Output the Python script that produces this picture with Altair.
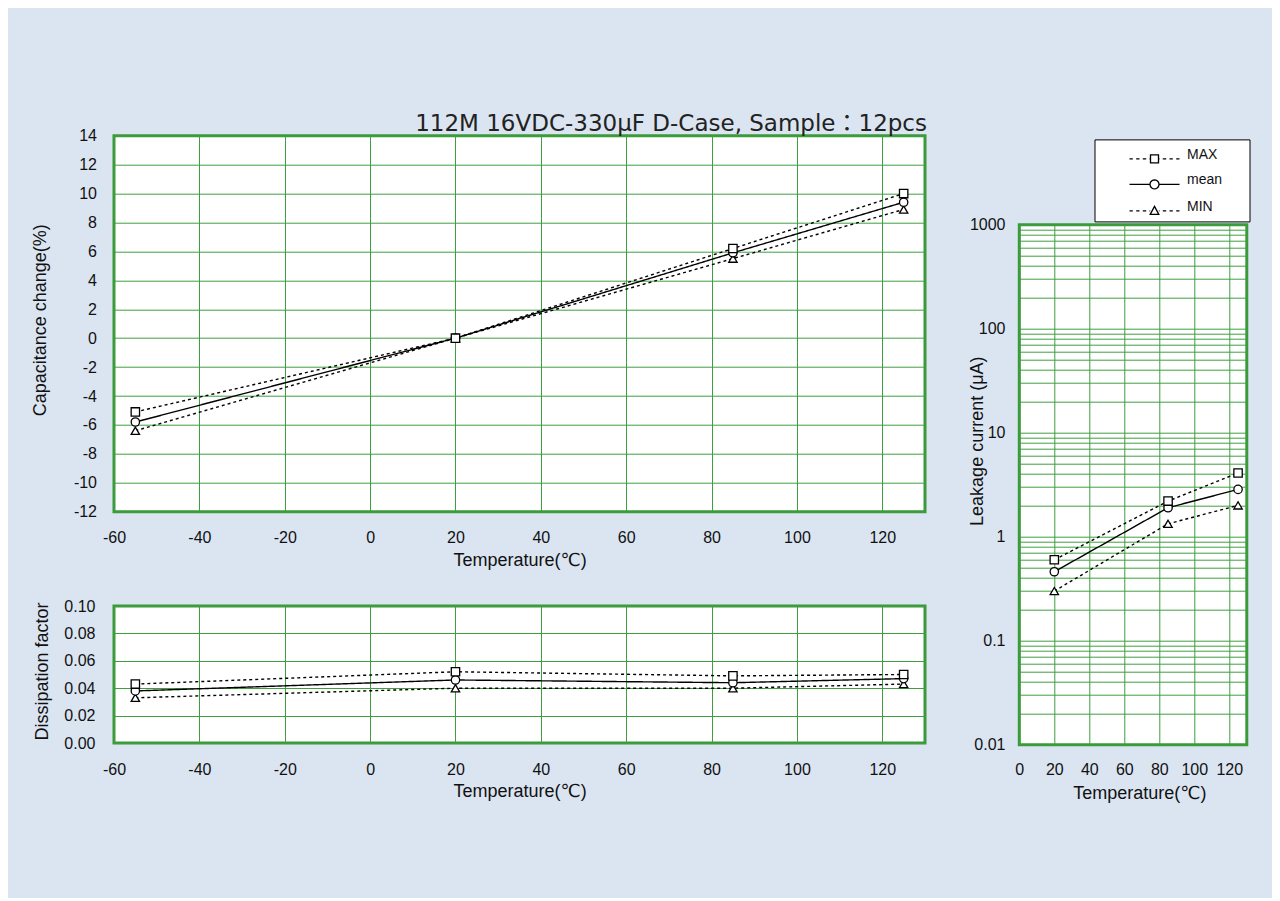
import math
import altair as alt
import pandas as pd

# ---------------- data ----------------
series = ["MAX", "mean", "MIN"]

temps = [-55, 20, 85, 125]
cap_max = [-5.1, 0.0, 6.2, 10.0]
cap_mean = [-5.8, 0.0, 5.9, 9.4]
cap_min = [-6.4, 0.0, 5.5, 8.9]

df_max = [0.043, 0.052, 0.049, 0.050]
df_mean = [0.038, 0.046, 0.044, 0.047]
df_min = [0.033, 0.040, 0.040, 0.043]

lc_temps = [20, 85, 125]
lc_max = [0.60, 2.2, 4.1]
lc_mean = [0.46, 1.9, 2.85]
lc_min = [0.30, 1.33, 2.0]

cap_xticks = [-60, -40, -20, 0, 20, 40, 60, 80, 100, 120]
cap_yticks = [-12, -10, -8, -6, -4, -2, 0, 2, 4, 6, 8, 10, 12, 14]
df_yticks = [0.0, 0.02, 0.04, 0.06, 0.08, 0.10]
lc_xticks = [0, 20, 40, 60, 80, 100, 120]
lc_yticks = [m * 10.0 ** e for e in range(-2, 3) for m in range(1, 10)] + [1000.0]

TITLE = "112M 16VDC-330μF D-Case, Sample：12pcs"
XTITLE = "Temperature(℃)"


def long_df(xs, cols):
    rows = []
    for name, vals in reversed(list(zip(series, cols))):
        for x, v in zip(xs, vals):
            rows.append({"temp": x, "value": v, "series": name})
    return pd.DataFrame(rows)


cap_df = long_df(temps, [cap_max, cap_mean, cap_min])
dis_df = long_df(temps, [df_max, df_mean, df_min])
lc_df = long_df(lc_temps, [lc_max, lc_mean, lc_min])

# ---------------- styles ----------------
BG = "#dbe5f1"
GREEN = "#3a9a3a"
LABEL_FONT = "Liberation Sans"
TITLE_FONT = "Liberation Sans, DejaVu Sans, Noto Sans CJK JP"
INT_LABEL = "'' + datum.value"

dash = alt.StrokeDash(
    "series:N",
    scale=alt.Scale(domain=series, range=[[3, 3], [1, 0], [3, 3]]),
    legend=None,
)
shape = alt.Shape(
    "series:N",
    scale=alt.Scale(domain=series, range=["square", "circle", "triangle-up"]),
    legend=None,
)


def layers(data, x, y):
    line = alt.Chart(data).mark_line(color="black", strokeWidth=1.4).encode(
        x=x, y=y, strokeDash=dash
    )
    pts = alt.Chart(data).mark_point(
        filled=True, fill="white", stroke="black", strokeWidth=1.3, size=70, opacity=1
    ).encode(x=x, y=y, shape=shape)
    return line, pts


# ---------------- top: capacitance change ----------------
cap_x = alt.X(
    "temp:Q",
    scale=alt.Scale(domain=[-60, 130], nice=False),
    axis=alt.Axis(values=cap_xticks, labelExpr=INT_LABEL, title=XTITLE, labelPadding=18,
                  titleY=39.5, titleBaseline="top"),
)
cap_y = alt.Y(
    "value:Q",
    scale=alt.Scale(domain=[-12, 14], nice=False),
    axis=alt.Axis(values=cap_yticks, labelExpr=INT_LABEL, title="Capacitance change(%)",
                  labelPadding=17.5, titleX=-73.5, titleY=184, titleAngle=270,
                  titleBaseline="middle", titleAlign="center"),
)
l1, p1 = layers(cap_df, cap_x, cap_y)
top = alt.layer(l1, p1).properties(
    width=811, height=376,
    title=alt.TitleParams(text=TITLE, anchor="end", frame="group", dx=2, dy=8.5, offset=0,
                          fontSize=23, font="DejaVu Sans, Noto Sans CJK JP",
                          fontWeight="normal", color="#222222"),
)

# ---------------- bottom: dissipation factor ----------------
dis_x = alt.X(
    "temp:Q",
    scale=alt.Scale(domain=[-60, 130], nice=False),
    axis=alt.Axis(values=cap_xticks, labelExpr=INT_LABEL, title=XTITLE, labelPadding=18,
                  titleY=39.5, titleBaseline="top"),
)
dis_y = alt.Y(
    "value:Q",
    scale=alt.Scale(domain=[0, 0.10], nice=False),
    axis=alt.Axis(values=df_yticks, format=".2f", title="Dissipation factor", labelPadding=19,
                  titleX=-72, titleY=65, titleAngle=270, titleBaseline="middle",
                  titleAlign="center"),
)
l2, p2 = layers(dis_df, dis_x, dis_y)
bottom = alt.layer(l2, p2).properties(width=811, height=137)

# ---------------- right: leakage current ----------------
lc_x = alt.X(
    "temp:Q",
    scale=alt.Scale(domain=[0, 130], nice=False),
    axis=alt.Axis(values=lc_xticks, labelExpr=INT_LABEL, title=XTITLE, labelPadding=16.5,
                  titleY=39.5, titleX=120, titleBaseline="top"),
)
lc_y = alt.Y(
    "value:Q",
    scale=alt.Scale(type="log", domain=[0.01, 1000], nice=False),
    axis=alt.Axis(
        values=lc_yticks,
        labelExpr="abs(log(datum.value)/LN10 - round(log(datum.value)/LN10)) < 0.000001 ? format(datum.value, '~g') : ''",
        title="Leakage current (μA)", labelPadding=14.3,
        titleX=-42.3, titleY=216, titleAngle=270, titleBaseline="middle", titleAlign="center",
    ),
)
l3, p3 = layers(lc_df, lc_x, lc_y)

# legend symbols: line + marker drawn as one custom symbol path.
# symbolSize 900 -> one path unit = 15 px; line is 50 px long, marker ~8 px.
U = 15.0


def px(v):
    return f"{v / U:.4f}"


def hseg(a, b):
    return f"M{px(a)},0H{px(b)}"


def dashed(gap):
    segs = []
    for a, b in [(-25, -21.7), (-18.3, -15), (-11.7, -8.3), (-5, -gap)]:
        segs.append(hseg(a, b))
    for a, b in [(gap, 5), (8.3, 11.7), (15, 18.3), (21.7, 25)]:
        segs.append(hseg(a, b))
    return "".join(segs)


def circle_path(r, n=20):
    pts = [(r * math.cos(2 * math.pi * k / n), r * math.sin(2 * math.pi * k / n)) for k in range(n)]
    return "M" + "L".join(f"{px(x)},{px(y)}" for x, y in pts) + "Z"


RIGHT_EXT = f"M{px(88)},0"  # invisible point that widens the legend frame
legend_paths = [
    RIGHT_EXT + dashed(4.2) + f"M{px(-4)},{px(-4)}H{px(4)}V{px(4)}H{px(-4)}Z",
    RIGHT_EXT + hseg(-25, -4.5) + hseg(4.5, 25) + circle_path(4.5),
    RIGHT_EXT + dashed(4.3) + f"M0,{px(-4.5)}L{px(4.3)},{px(3.5)}H{px(-4.3)}Z",
]

legend_layer = alt.Chart(lc_df).transform_filter("false").mark_point(
    filled=False, color="black", strokeWidth=1.3, opacity=1
).encode(
    x=lc_x,
    y=lc_y,
    shape=alt.Shape(
        "series:N",
        scale=alt.Scale(domain=series, range=legend_paths),
        legend=alt.Legend(
            title=None, orient="none", legendX=75.2, legendY=-85.3,
            symbolSize=900, symbolStrokeWidth=1.3,
            symbolStrokeColor="black", symbolOffset=40.5,
            labelFont=LABEL_FONT, labelFontSize=14, labelColor="#111111",
            labelBaseline="alphabetic", labelOffset=16.5,
            padding=3.5, rowPadding=2.5, strokeColor="black", fillColor="white",
        ),
    ),
)

right = alt.layer(l3, p3, legend_layer).resolve_scale(shape="independent").properties(
    width=227.5, height=520,
)

# invisible 1px spacer so the right panel can sit lower than the left one
spacer = alt.Chart(pd.DataFrame({"v": [0]})).mark_point(opacity=0, size=1).encode(
    x=alt.X("v:Q", axis=None), y=alt.Y("v:Q", axis=None)
).properties(width=1, height=1,
             view=alt.ViewBackground(strokeWidth=0, strokeOpacity=0, fillOpacity=0))

left = alt.vconcat(top, bottom, spacing=25.3)
right_col = alt.vconcat(spacer, right, spacing=0)

chart = (
    alt.hconcat(left, right_col, spacing=37.3)
    .properties(
        background=BG,
        padding={"left": 22, "top": 103.7, "right": 20, "bottom": 94.3},
    )
    .configure_view(stroke=GREEN, strokeWidth=3, fill="white")
    .configure_axis(
        domain=False, ticks=False, tickSize=0, grid=True, gridColor="#3f9f3f",
        gridWidth=1, gridOpacity=1,
        labelFont=LABEL_FONT, labelFontSize=16, labelColor="#111111",
        titleFont=TITLE_FONT, titleFontSize=18, titleFontWeight="normal",
        titleColor="#111111", labelFlush=False, labelOverlap=False,
    )
)

chart.save("out.html", embed_options={"renderer": "svg", "actions": False})
